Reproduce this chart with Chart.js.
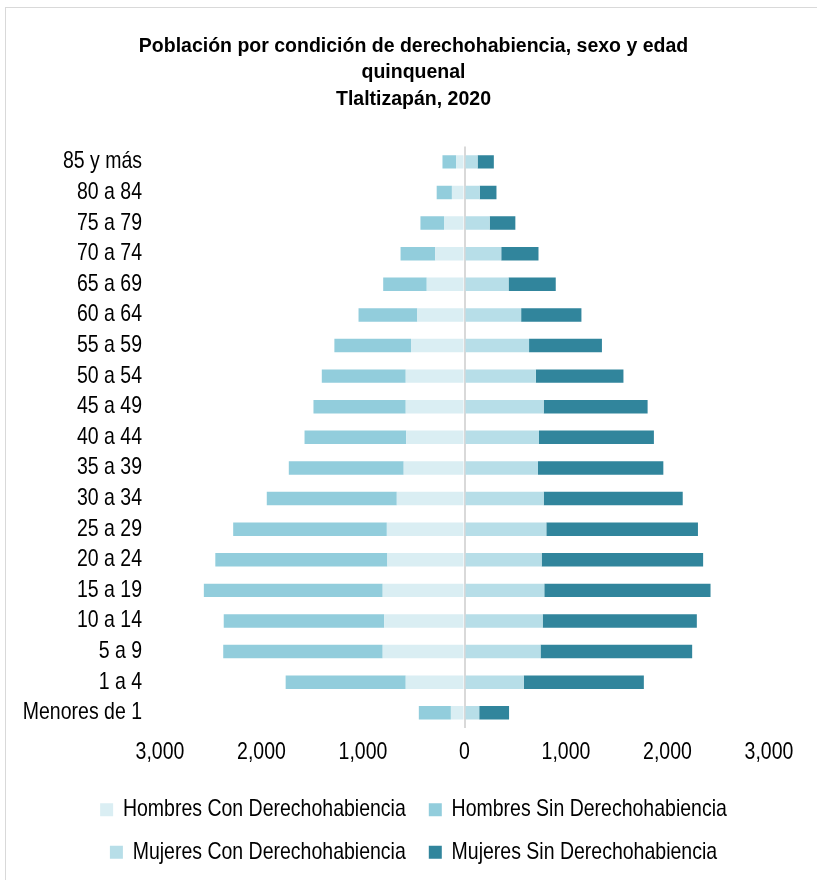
<!DOCTYPE html>
<html>
<head>
<meta charset="utf-8">
<script src="https://cdn.jsdelivr.net/npm/chart.js@4.4.1/dist/chart.umd.min.js"></script>
<style>
  body { margin: 0; background: #fff; }
  #wrap { position: relative; width: 817px; height: 880px; }
  #frame { position: absolute; left: 5px; top: 7px; right: 0; bottom: 0; border-left: 1px solid #d9d9d9; border-top: 1px solid #d9d9d9; pointer-events: none; }
</style>
</head>
<body>
<div id="wrap">
  <canvas id="pyramid"></canvas>
  <div id="frame"></div>
</div>
<script>
// Data (Tlaltizapán, 2020)
const ageGroups = ['85 y más', '80 a 84', '75 a 79', '70 a 74', '65 a 69', '60 a 64', '55 a 59',
  '50 a 54', '45 a 49', '40 a 44', '35 a 39', '30 a 34', '25 a 29', '20 a 24', '15 a 19',
  '10 a 14', '5 a 9', '1 a 4', 'Menores de 1'];
const hombresCon = [83, 124, 202, 289, 372, 465, 527, 579, 579, 574, 599, 667, 765, 760, 806, 791, 806, 579, 134];
const hombresSin = [134, 150, 232, 341, 429, 579, 755, 827, 909, 1002, 1132, 1281, 1514, 1695, 1762, 1581, 1571, 1183, 316];
const mujeresCon = [129, 150, 248, 362, 434, 558, 636, 703, 780, 734, 724, 780, 806, 760, 786, 770, 749, 584, 145];
const mujeresSin = [160, 165, 253, 367, 465, 594, 718, 863, 1024, 1132, 1235, 1370, 1494, 1591, 1638, 1519, 1494, 1183, 294];
const xTicks = [-3000, -2000, -1000, 0, 1000, 2000, 3000];

const sans = "'Liberation Sans', Arial, sans-serif";

const ctx = document.getElementById('pyramid').getContext('2d');

// the original uses a narrow face for labels; no narrow font here, so stretch
// the regular (non bold) text a bit in height to get the same look
const rawFill = ctx.fillText.bind(ctx);
ctx.fillText = function (text, x, y, maxWidth) {
    if (this.font.indexOf('bold') >= 0) {
        return maxWidth === undefined ? rawFill(text, x, y) : rawFill(text, x, y, maxWidth);
    }
    this.save();
    this.translate(x, y);
    this.scale(1, 1.2);
    if (maxWidth === undefined) rawFill(text, 0, 0); else rawFill(text, 0, 0, maxWidth);
    this.restore();
};

const chart = new Chart(ctx, {
    type: 'bar',
    data: {
        labels: ageGroups,
        datasets: [
            { label: 'Hombres Con Derechohabiencia', data: hombresCon.map(v => -v), backgroundColor: '#DAEEF3' },
            { label: 'Hombres Sin Derechohabiencia', data: hombresSin.map(v => -v), backgroundColor: '#92CDDC' },
            { label: 'Mujeres Con Derechohabiencia', data: mujeresCon, backgroundColor: '#B7DEE8' },
            { label: 'Mujeres Sin Derechohabiencia', data: mujeresSin, backgroundColor: '#31859C' }
        ]
    },
    options: {
        indexAxis: 'y',
        responsive: true,
        maintainAspectRatio: false,
        animation: false,
        barPercentage: 0.44,
        categoryPercentage: 1,
        borderWidth: 0,
        layout: { padding: { top: 0, right: 0, bottom: 8, left: 10 } },
        scales: {
            x: {
                stacked: true,
                min: -3000,
                max: 3000,
                z: 1,
                afterBuildTicks: axis => { axis.ticks = xTicks.map(v => ({ value: v })); },
                ticks: {
                    color: '#000',
                    padding: 22,
                    font: { family: sans, size: 19.5, lineHeight: 0.25 },
                    callback: v => Math.abs(v).toLocaleString('en-US')
                },
                grid: {
                    color: c => (c.tick && c.tick.value === 0) ? '#d9d9d9' : 'rgba(0,0,0,0)',
                    lineWidth: 2,
                    drawTicks: false
                },
                border: { display: false }
            },
            y: {
                stacked: true,
                afterFit: axis => { axis.width = 150; },
                ticks: {
                    color: '#000',
                    padding: 10,
                    font: { family: sans, size: 19.5 }
                },
                grid: { display: false },
                border: { display: false }
            },
            yRight: {
                type: 'category',
                position: 'right',
                afterFit: axis => { axis.width = 48; },
                ticks: { display: false },
                grid: { display: false },
                border: { display: false }
            }
        },
        plugins: {
            title: {
                display: true,
                text: ['Población por condición de derechohabiencia, sexo y edad', 'quinquenal', 'Tlaltizapán, 2020'],
                color: '#000',
                font: { family: sans, size: 19.5, weight: 'bold', lineHeight: 1.36 },
                padding: { top: 33, bottom: 34 }
            },
            legend: {
                position: 'bottom',
                labels: {
                    color: '#000',
                    boxWidth: 13,
                    boxHeight: 13,
                    padding: 23,
                    font: { family: sans, size: 19.5 }
                }
            },
            tooltip: {
                callbacks: {
                    label: c => c.dataset.label + ': ' + Math.abs(c.raw).toLocaleString('en-US')
                }
            }
        }
    }
});
</script>
</body>
</html>
